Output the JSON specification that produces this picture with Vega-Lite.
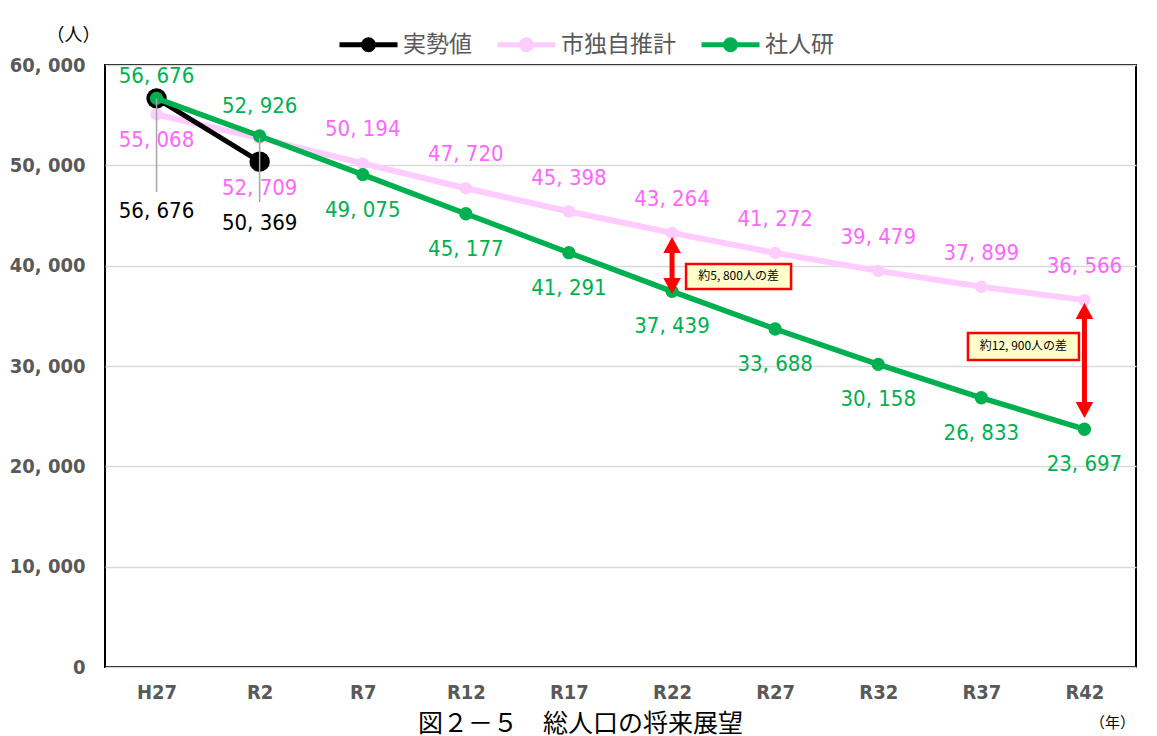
{
  "$schema": "https://vega.github.io/schema/vega-lite/v6.json",
  "width": 1031,
  "height": 602,
  "autosize": "none",
  "padding": {"left": 105, "top": 65, "right": 21, "bottom": 69},
  "background": "white",
  "title": {"text": "図２－５　総人口の将来展望", "orient": "bottom", "frame": "group", "anchor": "middle", "dx": -40, "offset": -18, "baseline": "top", "fontSize": 25, "fontWeight": "normal", "font": "Noto Sans CJK JP", "color": "#000000"},
  "config": {
    "locale": {"number": {"decimal": ".", "thousands": ", ", "grouping": [3], "currency": ["", ""]}},
    "view": {"stroke": "#000000", "strokeWidth": 2}
  },
  "datasets": {
    "series": [
      {"year": "H27", "series": "実勢値", "value": 56676},
      {"year": "R2", "series": "実勢値", "value": 50369},
      {"year": "H27", "series": "市独自推計", "value": 55068},
      {"year": "R2", "series": "市独自推計", "value": 52709},
      {"year": "R7", "series": "市独自推計", "value": 50194},
      {"year": "R12", "series": "市独自推計", "value": 47720},
      {"year": "R17", "series": "市独自推計", "value": 45398},
      {"year": "R22", "series": "市独自推計", "value": 43264},
      {"year": "R27", "series": "市独自推計", "value": 41272},
      {"year": "R32", "series": "市独自推計", "value": 39479},
      {"year": "R37", "series": "市独自推計", "value": 37899},
      {"year": "R42", "series": "市独自推計", "value": 36566},
      {"year": "H27", "series": "社人研", "value": 56676},
      {"year": "R2", "series": "社人研", "value": 52926},
      {"year": "R7", "series": "社人研", "value": 49075},
      {"year": "R12", "series": "社人研", "value": 45177},
      {"year": "R17", "series": "社人研", "value": 41291},
      {"year": "R22", "series": "社人研", "value": 37439},
      {"year": "R27", "series": "社人研", "value": 33688},
      {"year": "R32", "series": "社人研", "value": 30158},
      {"year": "R37", "series": "社人研", "value": 26833},
      {"year": "R42", "series": "社人研", "value": 23697}
    ],
    "leaders": [
      {"year": "H27", "value": 56676, "value2": 47342},
      {"year": "R2", "value": 52724, "value2": 46346}
    ],
    "arrows": [
      {"year": "R22", "top": 42857, "bottom": 37176, "shaftTop": 42060, "shaftBottom": 37970},
      {"year": "R42", "top": 36279, "bottom": 24817, "shaftTop": 35480, "shaftBottom": 25610}
    ],
    "boxes": [
      {"year": "R22", "value": 38921, "text": "約5, 800人の差"},
      {"year": "R42", "value": 31944, "text": "約12, 900人の差"}
    ]
  },
  "data": {"name": "series"},
  "encoding": {
    "x": {
      "field": "year", "type": "ordinal",
      "scale": {"type": "point", "padding": 0.5, "domain": ["H27", "R2", "R7", "R12", "R17", "R22", "R27", "R32", "R37", "R42"]},
      "axis": {
        "title": "（年）", "titleX": 1007, "titleY": 55, "titleAlign": "center", "titleBaseline": "middle", "titleFontSize": 15, "titleFontWeight": "normal", "titleFont": "Noto Sans CJK JP", "titleColor": "#000000",
        "labelAngle": 0, "labelFont": "DejaVu Sans Condensed, Noto Sans CJK JP", "labelFontWeight": "bold", "labelFontSize": 20, "labelColor": "#595959", "labelPadding": 15,
        "ticks": false, "domain": false, "grid": false
      }
    }
  },
  "layer": [
    {
      "transform": [{"filter": "datum.series === '市独自推計'"}],
      "mark": {"type": "line", "strokeWidth": 6, "point": {"filled": true, "size": 154, "opacity": 1}},
      "encoding": {
        "y": {
          "field": "value", "type": "quantitative", "title": "（人）",
          "scale": {"domain": [0, 60000]},
          "axis": {
            "values": [0, 10000, 20000, 30000, 40000, 50000, 60000], "labelExpr": "format(datum.value, ',')",
            "title": "（人）", "titleAngle": 0, "titleX": -32, "titleY": -30, "titleAlign": "center", "titleBaseline": "middle", "titleFontSize": 18, "titleFontWeight": "normal", "titleFont": "Noto Sans CJK JP", "titleColor": "#000000",
            "labelFont": "DejaVu Sans Condensed, Noto Sans CJK JP", "labelFontWeight": "bold", "labelFontSize": 20, "labelColor": "#595959", "labelPadding": 20,
            "ticks": false, "domain": false, "grid": true, "gridColor": "#D9D9D9", "gridWidth": 1.5
          }
        },
        "color": {
          "field": "series", "type": "nominal",
          "scale": {"domain": ["実勢値", "市独自推計", "社人研"], "range": ["#000000", "#FFCCFF", "#00B050"]},
          "legend": {
            "orient": "none", "legendX": 232, "legendY": -52, "direction": "horizontal", "title": null,
            "symbolType": "M-1,0H1M0.17,0C0.17,0.094 0.094,0.17 0,0.17C-0.094,0.17 -0.17,0.094 -0.17,0C-0.17,-0.094 -0.094,-0.17 0,-0.17C0.094,-0.17 0.17,-0.094 0.17,0Z",
            "symbolSize": 3364, "symbolStrokeWidth": 5,
            "labelFont": "Noto Sans CJK JP", "labelFontSize": 23, "labelColor": "#595959", "labelOffset": 3, "columnPadding": 15,
            "encode": {"symbols": {"update": {"stroke": {"scale": "color", "field": "value"}, "fill": {"scale": "color", "field": "value"}, "strokeWidth": {"value": 5}, "opacity": {"value": 1}}}}
          }
        }
      }
    },
    {
      "transform": [{"filter": "datum.series === '実勢値'"}],
      "mark": {"type": "line", "strokeWidth": 5, "point": {"filled": true, "size": 415, "opacity": 1}},
      "encoding": {
        "y": {"field": "value", "type": "quantitative", "title": "（人）"},
        "color": {"field": "series", "type": "nominal"}
      }
    },
    {
      "transform": [{"filter": "datum.series === '社人研'"}],
      "mark": {"type": "line", "strokeWidth": 5.5, "point": {"filled": true, "size": 177, "opacity": 1}},
      "encoding": {
        "y": {"field": "value", "type": "quantitative", "title": "（人）"},
        "color": {"field": "series", "type": "nominal"}
      }
    },
    {
      "data": {"name": "leaders"},
      "mark": {"type": "rule", "color": "#A6A6A6", "strokeWidth": 1.5},
      "encoding": {
        "y": {"field": "value", "type": "quantitative", "title": "（人）"},
        "y2": {"field": "value2"}
      }
    },
    {
      "data": {"name": "arrows"},
      "mark": {"type": "rule", "color": "#FF0000", "strokeWidth": 5, "strokeCap": "butt"},
      "encoding": {
        "y": {"field": "shaftTop", "type": "quantitative", "title": "（人）"},
        "y2": {"field": "shaftBottom"}
      }
    },
    {
      "data": {"name": "arrows"},
      "mark": {"type": "point", "shape": "M0,0L0.55,1L-0.55,1Z", "size": 1024, "filled": true, "color": "#FF0000", "opacity": 1},
      "encoding": {
        "y": {"field": "top", "type": "quantitative", "title": "（人）"}
      }
    },
    {
      "data": {"name": "arrows"},
      "mark": {"type": "point", "shape": "M0,0L0.55,-1L-0.55,-1Z", "size": 1024, "filled": true, "color": "#FF0000", "opacity": 1},
      "encoding": {
        "y": {"field": "bottom", "type": "quantitative", "title": "（人）"}
      }
    },
    {
      "data": {"name": "boxes"},
      "transform": [{"filter": "datum.year === 'R22'"}],
      "mark": {"type": "point", "shape": "M0.14,-0.125H1.19V0.125H0.14Z", "size": 40000, "filled": true, "fill": "#FFFFCC", "stroke": "#FF0000", "strokeWidth": 2.5, "opacity": 1},
      "encoding": {
        "y": {"field": "value", "type": "quantitative", "title": "（人）"}
      }
    },
    {
      "data": {"name": "boxes"},
      "transform": [{"filter": "datum.year === 'R42'"}],
      "mark": {"type": "point", "shape": "M-1.165,-0.135H-0.055V0.135H-1.165Z", "size": 40000, "filled": true, "fill": "#FFFFCC", "stroke": "#FF0000", "strokeWidth": 2.5, "opacity": 1},
      "encoding": {
        "y": {"field": "value", "type": "quantitative", "title": "（人）"}
      }
    },
    {
      "data": {"name": "boxes"},
      "transform": [{"filter": "datum.year === 'R22'"}],
      "mark": {"type": "text", "dx": 66.5, "font": "Noto Sans CJK JP", "fontSize": 12, "color": "#000000", "baseline": "middle", "align": "center"},
      "encoding": {
        "y": {"field": "value", "type": "quantitative", "title": "（人）"},
        "text": {"field": "text"}
      }
    },
    {
      "data": {"name": "boxes"},
      "transform": [{"filter": "datum.year === 'R42'"}],
      "mark": {"type": "text", "dx": -61, "font": "Noto Sans CJK JP", "fontSize": 12, "color": "#000000", "baseline": "middle", "align": "center"},
      "encoding": {
        "y": {"field": "value", "type": "quantitative", "title": "（人）"},
        "text": {"field": "text"}
      }
    },
    {
      "transform": [{"filter": "datum.series === '市独自推計' && datum.year !== 'H27' && datum.year !== 'R2'"}],
      "mark": {"type": "text", "dy": -34, "font": "DejaVu Sans Condensed, Noto Sans CJK JP", "fontSize": 22, "color": "#FF66FF", "baseline": "middle", "align": "center"},
      "encoding": {
        "y": {"field": "value", "type": "quantitative", "title": "（人）"},
        "text": {"field": "value", "type": "quantitative", "format": ","}
      }
    },
    {
      "transform": [{"filter": "datum.series === '市独自推計' && datum.year === 'H27'"}],
      "mark": {"type": "text", "dy": 25.5, "font": "DejaVu Sans Condensed, Noto Sans CJK JP", "fontSize": 22, "color": "#FF66FF", "baseline": "middle", "align": "center"},
      "encoding": {
        "y": {"field": "value", "type": "quantitative", "title": "（人）"},
        "text": {"field": "value", "type": "quantitative", "format": ","}
      }
    },
    {
      "transform": [{"filter": "datum.series === '市独自推計' && datum.year === 'R2'"}],
      "mark": {"type": "text", "dy": 50, "font": "DejaVu Sans Condensed, Noto Sans CJK JP", "fontSize": 22, "color": "#FF66FF", "baseline": "middle", "align": "center"},
      "encoding": {
        "y": {"field": "value", "type": "quantitative", "title": "（人）"},
        "text": {"field": "value", "type": "quantitative", "format": ","}
      }
    },
    {
      "transform": [{"filter": "datum.series === '社人研' && datum.year === 'H27'"}],
      "mark": {"type": "text", "dy": -22, "font": "DejaVu Sans Condensed, Noto Sans CJK JP", "fontSize": 22, "color": "#00B050", "baseline": "middle", "align": "center"},
      "encoding": {
        "y": {"field": "value", "type": "quantitative", "title": "（人）"},
        "text": {"field": "value", "type": "quantitative", "format": ","}
      }
    },
    {
      "transform": [{"filter": "datum.series === '社人研' && datum.year === 'R2'"}],
      "mark": {"type": "text", "dy": -29.5, "font": "DejaVu Sans Condensed, Noto Sans CJK JP", "fontSize": 22, "color": "#00B050", "baseline": "middle", "align": "center"},
      "encoding": {
        "y": {"field": "value", "type": "quantitative", "title": "（人）"},
        "text": {"field": "value", "type": "quantitative", "format": ","}
      }
    },
    {
      "transform": [{"filter": "datum.series === '社人研' && datum.year !== 'H27' && datum.year !== 'R2'"}],
      "mark": {"type": "text", "dy": 35, "font": "DejaVu Sans Condensed, Noto Sans CJK JP", "fontSize": 22, "color": "#00B050", "baseline": "middle", "align": "center"},
      "encoding": {
        "y": {"field": "value", "type": "quantitative", "title": "（人）"},
        "text": {"field": "value", "type": "quantitative", "format": ","}
      }
    },
    {
      "transform": [{"filter": "datum.series === '実勢値' && datum.year === 'H27'"}],
      "mark": {"type": "text", "dy": 113, "font": "DejaVu Sans Condensed, Noto Sans CJK JP", "fontSize": 22, "color": "#000000", "baseline": "middle", "align": "center"},
      "encoding": {
        "y": {"field": "value", "type": "quantitative", "title": "（人）"},
        "text": {"field": "value", "type": "quantitative", "format": ","}
      }
    },
    {
      "transform": [{"filter": "datum.series === '実勢値' && datum.year === 'R2'"}],
      "mark": {"type": "text", "dy": 61, "font": "DejaVu Sans Condensed, Noto Sans CJK JP", "fontSize": 22, "color": "#000000", "baseline": "middle", "align": "center"},
      "encoding": {
        "y": {"field": "value", "type": "quantitative", "title": "（人）"},
        "text": {"field": "value", "type": "quantitative", "format": ","}
      }
    }
  ]
}
